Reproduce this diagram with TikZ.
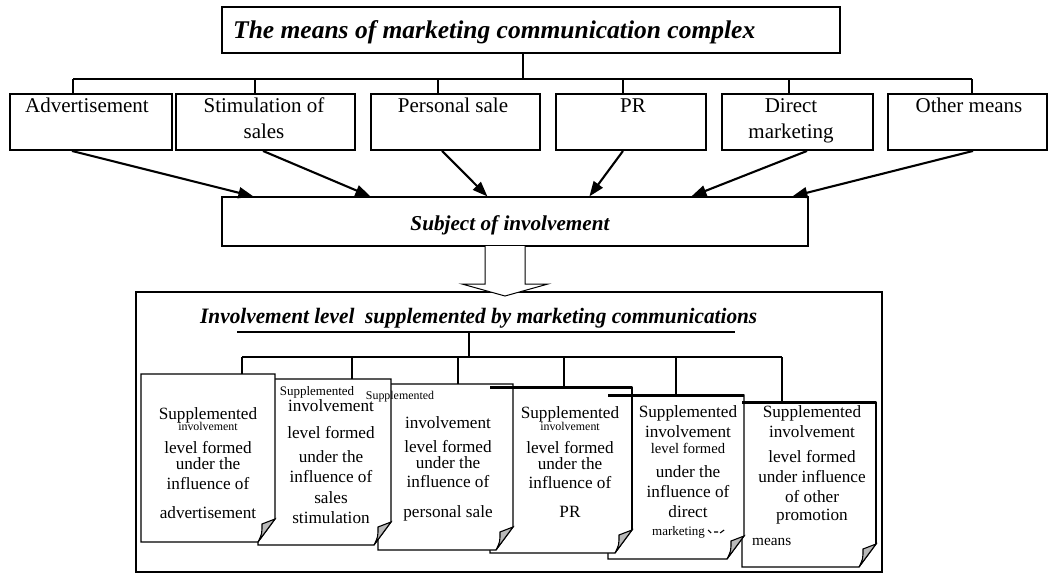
\documentclass[tikz,border=0pt]{standalone}
\usepackage{fontspec}
\usepackage{graphicx}
\setmainfont{Liberation Serif}
\usetikzlibrary{calc,arrows.meta}
\newcommand\fsN{\fontsize{17.2}{20}\selectfont}
\newcommand\fsS{\fontsize{11.9}{14}\selectfont}
\newcommand\fsM{\fontsize{14.6}{17}\selectfont}
\newcommand\fsB{\fontsize{21}{27}\selectfont}
\newcommand\pagesheet[1]{%
  \filldraw[pageline, fill=white] (#1.north west) -- (#1.north east) -- ($(#1.south east)+(0,-23)$) -- ($(#1.south east)+(-17,0)$) -- (#1.south west) -- cycle;
  \filldraw[pageline, fill=gray!55] ($(#1.south east)+(0,-23)$) .. controls ($(#1.south east)+(-7,-20)$) .. ($(#1.south east)+(-13,-18)$) .. controls ($(#1.south east)+(-13,-8)$) .. ($(#1.south east)+(-17,0)$) -- cycle;
}
\newcommand\pgline[5]{\node[anchor=base, inner sep=0pt, font=#4] (#1) at (#2,#3) {#5};}
\begin{document}
\begin{tikzpicture}[x=1pt,y=-1pt,
  conn/.style={line width=1.2pt},
  mbox/.style={draw, line width=1.9pt, inner sep=0pt, minimum height=56pt},
  thinbox/.style={draw, line width=1.2pt, inner sep=0pt},
  boxtext/.style={anchor=base, inner sep=0pt, font=\fsB},
  arr/.style={line width=2.1pt, -{Triangle[length=15pt,width=11pt]}},
  pageline/.style={line width=1.1pt},
  pg/.style={inner sep=0pt, outer sep=0pt}]
\useasboundingbox (0,0) rectangle (1050,574);

% title
\node[thinbox, minimum width=618pt, minimum height=46pt] (tbox) at (531,30) {};
\node[anchor=base west, inner sep=0pt, font=\fontsize{25.5}{30}\selectfont\bfseries\itshape] (ttext) at (233,38) {The means of marketing communication complex};

% means boxes
\node[mbox, minimum width=162pt] (b1) at (91,122) {};
\node[mbox, minimum width=179pt] (b2) at (265.5,122) {};
\node[mbox, minimum width=169pt] (b3) at (455.5,122) {};
\node[mbox, minimum width=150pt] (b4) at (631,122) {};
\node[mbox, minimum width=151pt] (b5) at (797.5,122) {};
\node[mbox, minimum width=159pt] (b6) at (967.5,122) {};
\node[boxtext] (b1t) at (87,112) {Advertisement};
\node[boxtext] (b2t) at (264,112) {Stimulation of};
\node[boxtext] (b2u) at (264,138) {sales};
\node[boxtext] (b3t) at (453,112) {Personal sale};
\node[boxtext] (b4t) at (633,112) {PR};
\node[boxtext] (b5t) at (791,112) {Direct};
\node[boxtext] (b5u) at (791,138) {marketing};
\node[boxtext] (b6t) at (969,112) {Other means};

\coordinate (tstem) at (523,79);
\coordinate (j1) at (73,79);
\coordinate (j2) at (255,79);
\coordinate (j3) at (438,79);
\coordinate (j4) at (623,79);
\coordinate (j5) at (789,79);
\coordinate (j6) at (972,79);
\draw[conn] (tbox.south -| tstem) -- (tstem);
\draw[conn] (j1) -- (j6);
\foreach \i in {1,...,6} {\draw[conn] (j\i) -- (j\i |- b\i.north);}

% subject
\node[thinbox, minimum width=586pt, minimum height=49pt] (subj) at (515,221.5) {};
\node[anchor=base, inner sep=0pt, font=\fontsize{21.2}{25}\selectfont\bfseries\itshape] (subjt) at (510,230) {Subject of involvement};

\draw[arr] ($(b1.south)+(-19,0)$) -- ($(subj.north west)+(32,0)$);
\draw[arr] ($(b2.south)+(-2.5,0)$) -- ($(subj.north west)+(149,0)$);
\draw[arr] ($(b3.south)+(-13.5,0)$) -- ($(subj.north west)+(266,0)$);
\draw[arr] ($(b4.south)+(-8,0)$) -- ($(subj.north west)+(368,0)$);
\draw[arr] ($(b5.south)+(9.5,0)$) -- ($(subj.north west)+(470,0)$);
\draw[arr] ($(b6.south)+(5.5,0)$) -- ($(subj.north west)+(571,0)$);

% big box
\node[draw, line width=1.4pt, fill=white, inner sep=0pt, minimum width=746pt, minimum height=280pt] (big) at (509,432) {};

% hollow down arrow
\draw[line width=1pt, fill=white] (485,246) -- (485,284) -- (462,284) -- (505,296) -- (548,284) -- (525,284) -- (525,246);

% bottom title
\node[anchor=base west, inner sep=0pt] (btitle) at (200,323) {\resizebox{557pt}{\height}{\fontsize{22}{26}\selectfont\bfseries\itshape Involvement level\ \ supplemented by marketing communications}};
\draw[line width=1.5pt] (237,332) -- (735,332);

% pages
\node[pg, minimum width=134pt, minimum height=168pt] (pg1) at (208,458) {};
\node[pg, minimum width=133pt, minimum height=166pt] (pg2) at (324.5,462) {};
\node[pg, minimum width=135pt, minimum height=166pt] (pg3) at (445.5,467) {};
\node[pg, minimum width=142pt, minimum height=166pt] (pg4) at (561,470) {};
\node[pg, minimum width=136pt, minimum height=164pt] (pg5) at (676,477) {};
\node[pg, minimum width=134pt, minimum height=165pt] (pg6) at (809,484.5) {};

\coordinate (ul) at (469,332);
\coordinate (bus) at (469,357);
\coordinate (k1) at (242,357);
\coordinate (k2) at (352,357);
\coordinate (k3) at (458,357);
\coordinate (k4) at (564,357);
\coordinate (k5) at (676,357);
\coordinate (k6) at (782,357);
\draw[conn] (ul) -- (bus);
\draw[conn] (k1) -- (k6);
\foreach \i in {1,...,6} {\draw[conn] (k\i) -- (k\i |- pg\i.north);}

\pagesheet{pg6}
\pagesheet{pg5}
\pagesheet{pg4}
\pagesheet{pg3}
\pagesheet{pg2}
\pagesheet{pg1}
\draw[line width=3pt] (pg4.north west) -- (pg4.north east);
\draw[line width=3pt] (pg5.north west) -- (pg5.north east);
\draw[line width=3pt] (pg6.north west) -- (pg6.north east);
\draw[line width=1.8pt] (pg4.north east) -- ($(pg4.south east)+(0,-23)$);
\draw[line width=1.8pt] (pg6.north east) -- ($(pg6.south east)+(0,-23)$);

% page 1
\pgline{p1a}{208}{419}{\fsN}{Supplemented}
\pgline{p1b}{208}{430}{\fsS}{involvement}
\pgline{p1c}{208}{453}{\fsN}{level formed}
\pgline{p1d}{208}{469}{\fsN}{under the}
\pgline{p1e}{208}{489}{\fsN}{influence of}
\pgline{p1f}{208}{518}{\fsN}{advertisement}
% page 2
\pgline{p2a}{317}{395}{\fontsize{13}{15}\selectfont}{Supplemented}
\pgline{p2b}{331}{411}{\fsN}{involvement}
\pgline{p2c}{331}{438}{\fsN}{level formed}
\pgline{p2d}{331}{462}{\fsN}{under the}
\pgline{p2e}{331}{482}{\fsN}{influence of}
\pgline{p2f}{331}{503}{\fsN}{sales}
\pgline{p2g}{331}{523}{\fsN}{stimulation}
% page 3
\pgline{p3a}{400}{399}{\fsS}{Supplemented}
\pgline{p3b}{448}{428}{\fsN}{involvement}
\pgline{p3c}{448}{452}{\fsN}{level formed}
\pgline{p3d}{448}{468}{\fsN}{under the}
\pgline{p3e}{448}{487}{\fsN}{influence of}
\pgline{p3f}{448}{517}{\fsN}{personal sale}
% page 4
\pgline{p4a}{570}{418}{\fsN}{Supplemented}
\pgline{p4b}{570}{430}{\fsS}{involvement}
\pgline{p4c}{570}{453}{\fsN}{level formed}
\pgline{p4d}{570}{469}{\fsN}{under the}
\pgline{p4e}{570}{488}{\fsN}{influence of}
\pgline{p4f}{570}{517}{\fsN}{PR}
% page 5
\pgline{p5a}{688}{417}{\fsN}{Supplemented}
\pgline{p5b}{688}{437}{\fsN}{involvement}
\pgline{p5c}{688}{453}{\fsM}{level formed}
\pgline{p5d}{688}{477}{\fsN}{under the}
\pgline{p5e}{688}{497}{\fsN}{influence of}
\pgline{p5f}{688}{517}{\fsN}{direct}
\node[anchor=base west, inner sep=0pt, font=\fontsize{13}{15}\selectfont] (p5g) at (652,535) {marketing};
\draw[line width=1.1pt] ($(p5g.base east)+(3,-5)$) -- ++(3,3) ($(p5g.base east)+(9,-3)$) -- ++(4,0) ($(p5g.base east)+(15,-2)$) -- ++(4,-3);
% page 6
\pgline{p6a}{812}{417}{\fsN}{Supplemented}
\pgline{p6b}{812}{437}{\fsN}{involvement}
\pgline{p6c}{812}{462}{\fsN}{level formed}
\pgline{p6d}{812}{482}{\fsN}{under influence}
\pgline{p6e}{812}{502}{\fsN}{of other}
\pgline{p6f}{812}{520}{\fsN}{promotion}
\node[anchor=base west, inner sep=0pt, font=\fontsize{15.3}{18}\selectfont] (p6g) at (752,545) {means};
\end{tikzpicture}
\end{document}
